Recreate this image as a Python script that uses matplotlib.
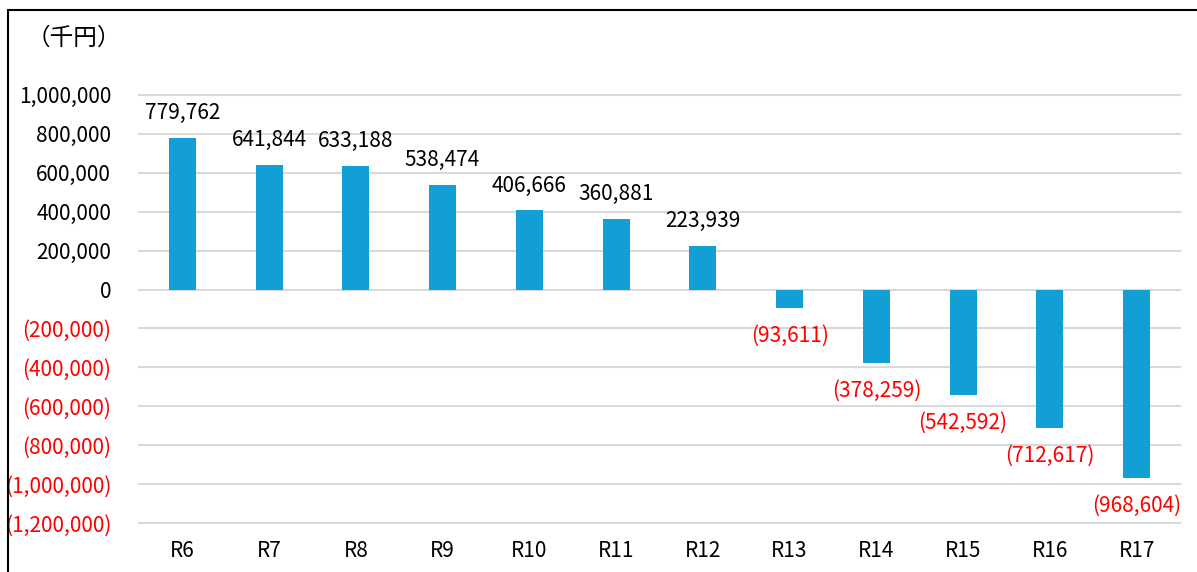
import numpy as np
import matplotlib.pyplot as plt
from matplotlib.patches import Rectangle

plt.rcParams['font.family'] = ['Noto Sans CJK JP', 'DejaVu Sans']

# 年度ごとの収支（千円）
nendo = ['R6', 'R7', 'R8', 'R9', 'R10', 'R11', 'R12', 'R13', 'R14', 'R15', 'R16', 'R17']
shushi = [779762, 641844, 633188, 538474, 406666, 360881, 223939,
          -93611, -378259, -542592, -712617, -968604]
yticks = np.arange(-1200000, 1000001, 200000)


def fmt(v):
    if v < 0:
        return '({:,})'.format(-v)
    return '{:,}'.format(v)


fig = plt.figure(figsize=(11.97, 5.72), dpi=100)
ax = fig.add_axes([0.1161, 0.0857, 0.8697, 0.7483])

x = np.arange(len(nendo))
ax.bar(x, shushi, width=0.31, color='#129fd6', zorder=3)

ax.set_xlim(-0.5, len(nendo) - 0.5)
ax.set_ylim(-1200000, 1000000)
ax.set_yticks(yticks)
ax.set_yticklabels([fmt(int(v)) for v in yticks], fontsize=15)
for lab, v in zip(ax.get_yticklabels(), yticks):
    lab.set_color('red' if v < 0 else 'black')
ax.set_xticks(x)
ax.set_xticklabels(nendo, fontsize=15)
ax.tick_params(length=0)
ax.tick_params(axis='x', pad=12)
ax.tick_params(axis='y', pad=20)
ax.grid(axis='y', color='#d9d9d9', linewidth=1.5, zorder=0)
for gl in ax.get_ygridlines():
    gl.set_clip_on(False)
for s in ax.spines.values():
    s.set_visible(False)

# 棒の値ラベル
for xi, v in zip(x, shushi):
    if v >= 0:
        ax.annotate(fmt(v), (xi, v), xytext=(0, 10), textcoords='offset points',
                    ha='center', va='bottom', fontsize=15)
    else:
        ax.annotate(fmt(v), (xi, v), xytext=(0, -12), textcoords='offset points',
                    ha='center', va='top', fontsize=15, color='red')

fig.text(0.022, 0.933, '（千円）', fontsize=17, ha='left', va='center')

# 外枠
fig.patches.append(Rectangle((8 / 1197, -0.1), 1.2, 1 - 10 / 572 + 0.1,
                             transform=fig.transFigure, fill=False,
                             edgecolor='black', linewidth=1.5))

fig.savefig('out.png', dpi=100)
